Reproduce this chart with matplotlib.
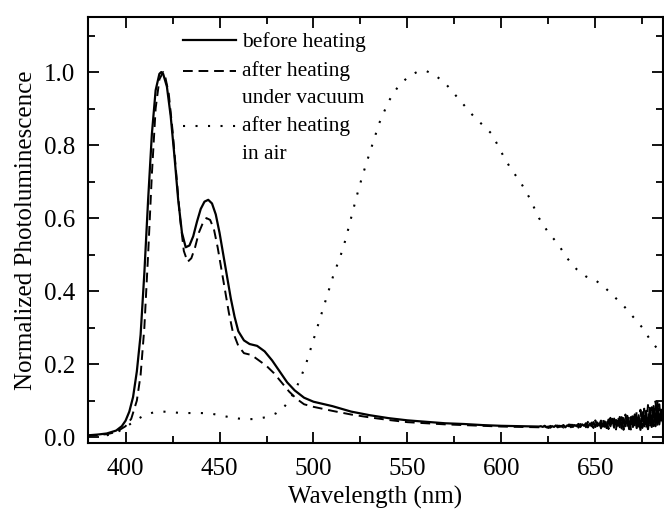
import matplotlib
matplotlib.use("Agg")
import matplotlib.pyplot as plt
from matplotlib.ticker import MultipleLocator

plt.rcParams['font.family'] = ['Liberation Serif', 'DejaVu Serif']
plt.rcParams['mathtext.fontset'] = 'stix'

# ---------------- data ----------------
wl_before = [380, 385, 390, 395, 398, 400, 402, 404, 406, 408, 410, 412, 414, 416, 418, 419, 420,
             422, 424, 426, 428, 430, 432, 434, 436, 438, 440, 442, 444, 446, 448, 450, 452, 454,
             456, 458, 460, 463, 466, 470, 474, 478, 482, 486, 490, 495, 500, 510, 520, 530, 540,
             550, 560, 570, 580, 590, 600, 610, 620,
             621, 622, 623, 624, 625, 626, 627, 628, 629, 630, 631, 632, 633, 634, 635, 636, 637,
             638, 639, 640, 641, 642, 643, 644, 645, 646, 647, 648, 649, 650, 651, 652, 653, 654,
             655, 656, 657, 658, 659, 660, 661, 662, 663, 664, 665, 666, 667, 668, 669, 670, 671,
             672, 673, 674, 675, 676, 677, 678, 679, 680, 681, 682, 683, 684, 685, 686]
pl_before = [0.005, 0.007, 0.010, 0.018, 0.030, 0.045, 0.070, 0.110, 0.180, 0.280, 0.450, 0.650,
             0.830, 0.950, 0.995, 1.000, 0.995, 0.960, 0.880, 0.770, 0.650, 0.560, 0.520, 0.525,
             0.550, 0.590, 0.625, 0.645, 0.650, 0.640, 0.610, 0.560, 0.500, 0.440, 0.380, 0.330,
             0.290, 0.265, 0.255, 0.250, 0.235, 0.210, 0.180, 0.150, 0.128, 0.108, 0.097, 0.085,
             0.070, 0.060, 0.052, 0.046, 0.042, 0.038, 0.036, 0.033, 0.031, 0.030, 0.029,
             0.030, 0.028, 0.031, 0.027, 0.029, 0.026, 0.030, 0.028, 0.032, 0.027, 0.031, 0.029,
             0.033, 0.027, 0.032, 0.030, 0.034, 0.028, 0.033, 0.030, 0.036, 0.028, 0.035, 0.031,
             0.038, 0.027, 0.037, 0.030, 0.041, 0.028, 0.040, 0.032, 0.045, 0.029, 0.043, 0.025,
             0.048, 0.030, 0.050, 0.026, 0.047, 0.031, 0.055, 0.024, 0.052, 0.030, 0.058, 0.022,
             0.055, 0.028, 0.062, 0.025, 0.060, 0.020, 0.068, 0.030, 0.072, 0.022, 0.080, 0.028,
             0.085, 0.030, 0.095, 0.035, 0.075, 0.040]

wl_vacuum = [380, 390, 395, 400, 403, 406, 408, 410, 412, 414, 416, 418, 420, 421, 423, 425, 427,
             429, 431, 433, 435, 437, 439, 441, 443, 445, 447, 449, 451, 453, 455, 457, 460, 463,
             467, 471, 475, 479, 483, 487, 491, 495, 500, 510, 520, 530, 540, 550, 560, 570, 580,
             590, 600, 610, 620,
             621, 622, 623, 624, 625, 626, 627, 628, 629, 630, 631, 632, 633, 634, 635, 636, 637,
             638, 639, 640, 641, 642, 643, 644, 645, 646, 647, 648, 649, 650, 651, 652, 653, 654,
             655, 656, 657, 658, 659, 660, 661, 662, 663, 664, 665, 666, 667, 668, 669, 670, 671,
             672, 673, 674, 675, 676, 677, 678, 679, 680, 681, 682, 683, 684, 685, 686]
pl_vacuum = [0.004, 0.008, 0.014, 0.030, 0.050, 0.100, 0.170, 0.300, 0.500, 0.720, 0.900, 0.980,
             1.000, 0.990, 0.940, 0.840, 0.720, 0.600, 0.510, 0.480, 0.490, 0.520, 0.560, 0.585,
             0.600, 0.595, 0.570, 0.520, 0.460, 0.400, 0.340, 0.290, 0.250, 0.230, 0.225, 0.210,
             0.195, 0.175, 0.150, 0.125, 0.105, 0.090, 0.083, 0.072, 0.062, 0.054, 0.047, 0.041,
             0.038, 0.035, 0.033, 0.031, 0.029, 0.028, 0.027,
             0.029, 0.026, 0.030, 0.028, 0.025, 0.031, 0.027, 0.030, 0.026, 0.032, 0.028, 0.031,
             0.026, 0.033, 0.029, 0.035, 0.027, 0.034, 0.029, 0.037, 0.026, 0.036, 0.031, 0.039,
             0.027, 0.042, 0.029, 0.040, 0.025, 0.046, 0.030, 0.044, 0.024, 0.050, 0.028, 0.047,
             0.022, 0.053, 0.030, 0.051, 0.021, 0.057, 0.027, 0.055, 0.020, 0.062, 0.026, 0.058,
             0.018, 0.066, 0.028, 0.070, 0.020, 0.075, 0.025, 0.078, 0.022, 0.088, 0.026, 0.082,
             0.030, 0.098, 0.028, 0.090, 0.045, 0.070]

wl_air = [390, 395, 400, 405, 410, 415, 420, 425, 430, 435, 440, 445, 450, 455, 460, 465, 470,
          475, 480, 484, 487, 490, 493, 496, 499, 502, 505, 508, 511, 514, 517, 520, 523, 526,
          530, 535, 540, 545, 550, 555, 560, 565, 570, 575, 580, 585, 590, 595, 600, 605, 610,
          615, 620, 625, 630, 635, 640, 645, 650, 655, 660, 665, 670, 675, 680, 686]
pl_air = [0.005, 0.012, 0.027, 0.045, 0.060, 0.068, 0.070, 0.068, 0.066, 0.066, 0.066, 0.065,
          0.060, 0.055, 0.051, 0.049, 0.050, 0.055, 0.065, 0.080, 0.100, 0.125, 0.160, 0.200,
          0.250, 0.300, 0.350, 0.400, 0.450, 0.490, 0.540, 0.600, 0.660, 0.715, 0.780, 0.860,
          0.920, 0.960, 0.985, 1.000, 1.003, 0.990, 0.970, 0.940, 0.910, 0.880, 0.855, 0.830,
          0.780, 0.735, 0.700, 0.655, 0.600, 0.560, 0.530, 0.490, 0.460, 0.440, 0.430, 0.410,
          0.385, 0.360, 0.330, 0.300, 0.260, 0.225]

labels = ["before heating", "after heating\nunder vacuum", "after heating\nin air"]
x_ticks = [400, 450, 500, 550, 600, 650]
y_ticks = [0.0, 0.2, 0.4, 0.6, 0.8, 1.0]

# ---------------- figure ----------------
fig = plt.figure(figsize=(6.64, 5.23), dpi=100)
ax = fig.add_axes([0.1325, 0.153, 0.866, 0.814])

ax.plot(wl_before, pl_before, color='black', lw=1.6, ls='-', label=labels[0])
ax.plot(wl_vacuum, pl_vacuum, color='black', lw=1.4, ls=(0, (5, 3)), label=labels[1])
ax.plot(wl_air, pl_air, color='black', lw=1.5, ls=(0, (1, 5)), label=labels[2])

ax.set_xlim(380, 686)
ax.set_ylim(-0.016, 1.15)
ax.set_xticks(x_ticks)
ax.set_yticks(y_ticks)
ax.set_yticklabels([f"{v:.1f}" for v in y_ticks])
ax.xaxis.set_minor_locator(MultipleLocator(25))
ax.yaxis.set_minor_locator(MultipleLocator(0.1))
ax.tick_params(which='both', direction='in', top=True, right=True, labelsize=18, width=1.3)
ax.tick_params(which='major', length=8)
ax.tick_params(which='minor', length=5)
ax.tick_params(axis='y', which='major', pad=9)
ax.tick_params(axis='x', which='major', pad=11)
for s in ax.spines.values():
    s.set_linewidth(1.5)

ax.set_xlabel("Wavelength (nm)", fontsize=18, labelpad=4)
ax.set_ylabel("Normalized Photoluminescence", fontsize=18, labelpad=5)

leg = ax.legend(loc='upper left', bbox_to_anchor=(0.151, 0.985), frameon=False, fontsize=15.5,
                handlelength=2.45, handletextpad=0.28, labelspacing=0.4, borderaxespad=0)
for t in leg.get_texts():
    t.set_linespacing(1.58)
# align two-line entries' handles with the first text line
for ln in leg.get_lines()[1:]:
    yd = [v + 9.5 for v in ln.get_ydata()]
    ln.set_ydata(yd)

fig.savefig("out.png", dpi=100)
